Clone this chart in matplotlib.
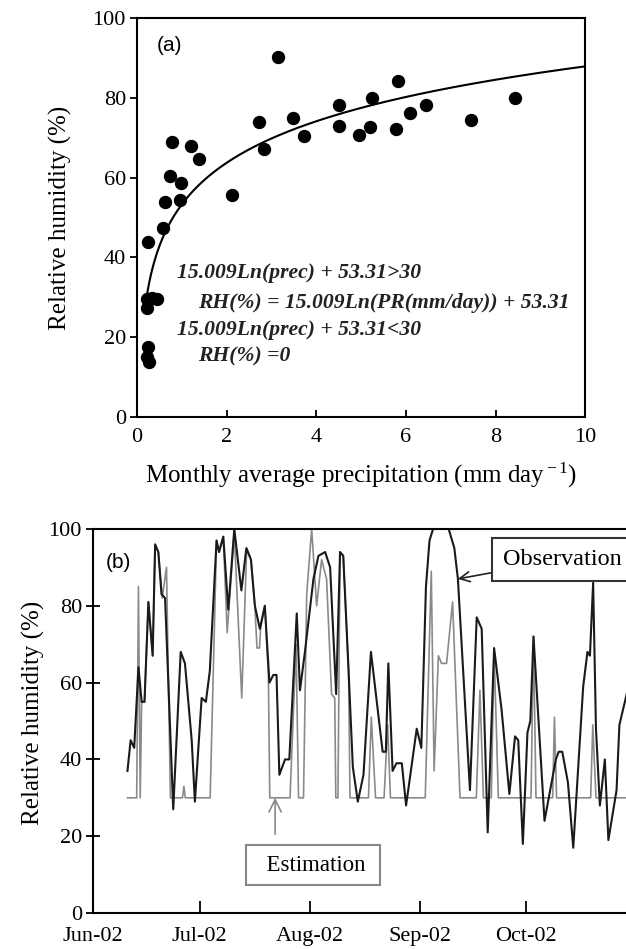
import numpy as np
import matplotlib
matplotlib.use("Agg")
import matplotlib.pyplot as plt
import matplotlib.dates as mdates
from datetime import datetime

plt.rcParams['font.family'] = ['Liberation Serif', 'DejaVu Serif']
plt.rcParams['mathtext.fontset'] = 'custom'
plt.rcParams['mathtext.rm'] = 'Liberation Serif'
plt.rcParams['mathtext.it'] = 'Liberation Serif:italic'

# (a) monthly precipitation vs relative humidity
prec = [0.25, 0.21, 0.22, 0.33, 0.45, 0.25, 0.21, 0.27, 0.58, 0.63, 0.73, 0.77,
        0.97, 0.95, 1.20, 1.38, 2.11, 2.71, 2.84, 3.14, 3.47, 3.72, 4.50, 4.50,
        4.94, 5.20, 5.25, 5.77, 5.83, 6.09, 6.44, 7.45, 8.43]
rh_month = [43.9, 27.2, 29.5, 29.8, 29.6, 17.6, 15.1, 13.8, 47.3, 54.0, 60.4, 68.8,
            58.7, 54.4, 67.8, 64.6, 55.6, 73.8, 67.1, 90.1, 74.9, 70.5, 78.2, 72.8,
            70.7, 72.6, 80.0, 72.1, 84.3, 76.3, 78.2, 74.5, 79.9]
fit_a, fit_b = 15.009, 53.31

# (b) daily relative humidity, days counted from 1 Jun 2002
obs_day = [9.7, 10.6, 11.6, 12.8, 13.7, 14.5, 15.6, 16.8, 17.5, 18.4, 19.3, 20.3,
           22.6, 24.7, 25.9, 27.8, 28.7, 30.6, 31.8, 32.9, 34.8, 35.5, 36.7, 38.1,
           39.8, 41.8, 43.2, 44.5, 45.6, 47.0, 48.4, 49.7, 50.8, 51.7, 52.5, 54.1,
           55.3, 57.4, 58.3, 59.7, 62.1, 63.5, 65.4, 66.8, 68.5, 69.6, 70.5, 72.0,
           73.2, 74.6, 76.2, 78.3, 81.6, 82.5, 83.2, 84.4, 85.5, 87.0, 88.2, 91.2,
           92.5, 93.8, 94.8, 95.8, 100.2, 101.8, 102.8, 106.2, 108.1, 109.5, 111.2,
           113.0, 115.1, 117.3, 118.9, 119.8, 121.1, 122.4, 123.2, 124.1, 127.2,
           130.4, 131.2, 132.2, 133.8, 135.3, 138.1, 139.3, 140.0, 140.9, 141.7,
           142.8, 144.2, 145.2, 147.5, 148.3, 150.1, 152.0]
obs_rh = [37, 45, 43, 64, 55, 55, 81, 67, 96, 94, 83, 82,
          27, 68, 65, 45, 29, 56, 55, 63, 97, 94, 98, 79,
          100, 84, 95, 92, 80, 74, 80, 60, 62, 62, 36, 40,
          40, 78, 58, 68, 87, 93, 94, 90, 57, 94, 93, 63,
          38, 29, 36, 68, 42, 42, 65, 37, 39, 39, 28, 48,
          43, 85, 97, 100, 100, 95, 87, 32, 77, 74, 21,
          69, 53, 31, 46, 45, 18, 47, 50, 72, 24,
          40, 42, 42, 34, 17, 59, 68, 67, 86, 48,
          28, 40, 19, 32, 49, 56, 64]
est_day = [9.7, 12.3, 12.8, 13.3, 13.7, 14.5, 15.6, 16.8, 17.5, 18.4, 19.5, 20.7,
           21.8, 25.2, 25.6, 26.0, 33.0, 34.8, 35.5, 36.7, 37.8, 39.8, 41.9, 43.3,
           44.5, 45.6, 46.2, 46.9, 47.2, 48.4, 49.4, 49.8, 55.5, 56.4, 57.2, 57.9,
           59.3, 60.2, 61.6, 63.0, 64.4, 65.8, 67.2, 68.1, 68.4, 69.0, 69.6, 70.5,
           72.0, 72.4, 77.6, 78.4, 79.6, 82.0, 83.0, 83.8, 93.6, 95.3, 96.1, 97.3,
           98.2, 99.6, 101.3, 103.4, 108.0, 109.0, 110.0, 112.2, 113.0, 114.2,
           123.4, 124.1, 124.8, 129.5, 130.0, 130.6, 140.2, 140.8, 141.7, 152.0]
est_rh = [30, 30, 85, 30, 55, 55, 81, 67, 96, 94, 82, 90,
          30, 30, 33, 30, 30, 97, 94, 98, 73, 99, 56, 95,
          92, 80, 69, 69, 74, 80, 62, 30, 30, 51, 70, 30,
          30, 83, 100, 80, 92, 87, 57, 56, 30, 30, 94, 93,
          63, 30, 30, 51, 30, 30, 49, 30, 30, 89, 37, 67,
          65, 65, 81, 30, 30, 58, 30, 30, 68, 30,
          30, 72, 30, 30, 51, 30, 30, 49, 30, 30]

fig = plt.figure(figsize=(6.26, 9.49), dpi=100)

# ---------- panel (a)
ax1 = fig.add_axes([0.219, 0.5606, 0.716, 0.4205])
ax1.plot(prec, rh_month, 'o', color='black', ms=8.6, zorder=3)
x0 = np.exp((30 - fit_b) / fit_a)
xf = np.linspace(x0, 10, 300)
ax1.plot(xf, fit_a * np.log(xf) + fit_b, color='black', lw=1.5)
ax1.set_xlim(0, 10)
ax1.set_ylim(0, 100)
ax1.set_xticks([0, 2, 4, 6, 8, 10])
ax1.set_yticks([0, 20, 40, 60, 80, 100])
ax1.tick_params(axis='y', direction='out', length=5, width=1.3, labelsize=16, pad=3)
ax1.tick_params(axis='x', direction='in', length=5, width=1.3, labelsize=16, pad=8)
ax1.set_ylabel('Relative humidity (%)', fontsize=18)
ax1.yaxis.set_label_coords(-0.145, 0.5)
ax1.set_xlabel('Monthly average precipitation (mm day$^{\\rm -1}$)', fontsize=18, labelpad=10)
for s in ax1.spines.values():
    s.set_linewidth(1.5)
ax1.text(0.73, 93, '(a)', family='Liberation Sans', fontsize=15, ha='center', va='center')
eq = dict(fontsize=15.6, style='italic', weight='bold', color='#222222', va='center', ha='left')
ax1.text(0.88, 36, '15.009Ln(prec) + 53.31>30', **eq)
ax1.text(1.36, 28.5, 'RH(%) = 15.009Ln(PR(mm/day)) + 53.31', **eq)
ax1.text(0.88, 21.8, '15.009Ln(prec) + 53.31<30', **eq)
ax1.text(1.36, 15.1, 'RH(%) =0', **eq)

# ---------- panel (b)
base = mdates.date2num(datetime(2002, 6, 1))
ax2 = fig.add_axes([0.1486, 0.0379, 0.8675, 0.4047])
ax2.plot(base + np.array(est_day), est_rh, color='#8a8a8a', lw=1.2)
ax2.plot(base + np.array(obs_day), obs_rh, color='#1a1a1a', lw=1.5)
ax2.set_xlim(base, base + 153)
ax2.set_ylim(0, 100)
ax2.set_yticks([0, 20, 40, 60, 80, 100])
ax2.xaxis.set_major_locator(mdates.MonthLocator(bymonth=[6, 7, 8, 9, 10]))
ax2.xaxis.set_major_formatter(mdates.DateFormatter('%b-%y'))
ax2.tick_params(axis='y', direction='inout', length=10, width=1.3, labelsize=16, pad=3)
ax2.tick_params(axis='x', direction='in', length=9, width=1.3, labelsize=16, pad=10)
ax2.set_ylabel('Relative humidity (%)', fontsize=18)
ax2.yaxis.set_label_coords(-0.088, 0.52)
for s in ax2.spines.values():
    s.set_linewidth(1.5)
ax2.text(base + 7.3, 91.4, '(b)', family='Liberation Sans', fontsize=15, ha='center', va='center')

ax2.annotate('Observation', xy=(base + 102.8, 87), xytext=(base + 115.5, 92),
             fontsize=17.5, ha='left', va='center',
             bbox=dict(boxstyle='square,pad=0.45', fc='white', ec='#333333', lw=1.5),
             arrowprops=dict(arrowstyle='->', color='#222222', lw=1.2,
                             mutation_scale=18, shrinkA=0, shrinkB=0))
ax2.annotate('', xy=(base + 51.3, 30), xytext=(base + 51.3, 20.5),
             arrowprops=dict(arrowstyle='->', color='#888888', lw=1.2,
                             mutation_scale=22, shrinkA=0, shrinkB=0))
ax2.text(base + 62.0, 12.5, '  Estimation ', fontsize=16.5, ha='center', va='center',
         bbox=dict(boxstyle='square,pad=0.4', fc='white', ec='#888888', lw=1.5))

fig.savefig('out.png', dpi=100)
